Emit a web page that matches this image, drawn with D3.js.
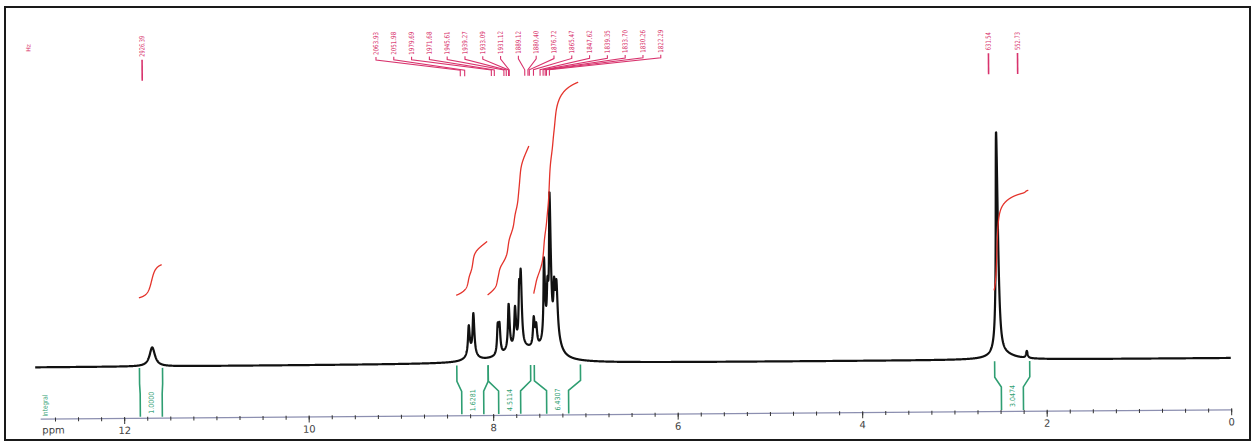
<!DOCTYPE html>
<html><head><meta charset="utf-8">
<script src="https://cdn.jsdelivr.net/npm/d3@7"></script>
<style>body{margin:0;background:#fff}svg{display:block}</style>
</head><body><svg id="c" width="1256" height="446"></svg>
<script>
// ---------- data ----------
const peakPpm    = [11.69, 8.257, 8.206, 7.943, 7.924, 7.823, 7.754, 7.707, 7.689, 7.552, 7.526, 7.436, 7.400, 7.371, 7.328, 7.303, 2.525, 2.210];
const peakHeight = [19,    28,    40,    27,    27,    46,    38,    50,    65,    28,    20,    78,    40,    140,   45,    50,    224,   7];
const peakWidth  = [0.07,  0.022, 0.022, 0.02,  0.02,  0.022, 0.022, 0.02,  0.02,  0.022, 0.022, 0.02,  0.02,  0.022, 0.022, 0.025, 0.028, 0.02];
const envelopePpm    = [8.23, 7.70, 7.40, 7.30, 2.47];
const envelopeHeight = [8,    14,   14,   12,   5];
const envelopeWidth  = [0.12, 0.45, 0.18, 0.10, 0.30];

const integralFrom   = [11.83, 8.39, 8.05, 7.55, 2.56];
const integralTo     = [11.58, 8.05, 7.59, 7.05, 2.18];
const integralValues = ["1.0000", "1.6281", "4.5114", "6.4307", "3.0474"];

const aromaticLabelsHz = ["2063.93","2051.98","1979.69","1971.68","1945.61","1939.27","1933.09","1931.12","1889.12","1880.40","1876.72","1865.47","1847.62","1839.35","1833.70","1830.26","1822.29"];
const singleLabelsHz   = ["2926.39","631.54","552.73"];
const spectrometerMHz  = 250.13;

const majorTicks = [12, 10, 8, 6, 4, 2, 0];
const minorTicks = d3.range(0, 12.9, 0.25);

// ---------- layout ----------
const baseY = 362.7, axisY = 414;
const x = d3.scaleLinear().domain([12.91, 0]).range([40, 1231]);
const y = d3.scaleLinear().domain([0, 230]).range([baseY, baseY - 230]);
const yInt = d3.scaleLinear().domain([0, 7]).range([294, 294 - 7 * 33]);

const red = "#e4332b", pink = "#d8336d", green = "#2f9e72";

const svg = d3.select("#c");
svg.append("rect").attr("x", 5).attr("y", 7).attr("width", 1245).attr("height", 433)
  .attr("fill", "none").attr("stroke", "#1a1a1a").attr("stroke-width", 2);

const g = svg.append("g").attr("transform", "rotate(-0.45,630,390)");

const lor = (p, c, h, w) => h / (1 + Math.pow((p - c) / (w / 2), 2));
function spec(p) {
  let s = 0;
  for (let i = 0; i < peakPpm.length; i++) s += lor(p, peakPpm[i], peakHeight[i], peakWidth[i]);
  for (let i = 0; i < envelopePpm.length; i++) s += lor(p, envelopePpm[i], envelopeHeight[i], envelopeWidth[i]);
  return s;
}
const grid = d3.range(12.96, -0.0001, -0.002);
const specPts = grid.map(p => [p, spec(p)]);

// spectrum
g.append("path").datum(specPts)
  .attr("fill", "none").attr("stroke", "#111").attr("stroke-width", 2.2).attr("stroke-linejoin", "round")
  .attr("d", d3.line().x(d => x(d[0])).y(d => y(d[1])));

// axis
const axMinor = d3.axisBottom(x).tickValues(minorTicks).tickSize(3).tickSizeOuter(0).tickFormat("");
const axMajor = d3.axisBottom(x).tickValues(majorTicks).tickSize(6).tickSizeOuter(0).tickFormat(d3.format("d")).tickPadding(3);
const ga1 = g.append("g").attr("transform", `translate(0,${axisY})`).call(axMinor);
ga1.select(".domain").attr("stroke", "#8c8fb0").attr("stroke-width", 1.2);
ga1.selectAll(".tick line").attr("stroke", "#333").attr("y1", -1);
const ga2 = g.append("g").attr("transform", `translate(0,${axisY})`).call(axMajor);
ga2.select(".domain").remove();
ga2.selectAll(".tick line").attr("stroke", "#333");
ga2.selectAll(".tick text").attr("font-family", "DejaVu Sans").attr("font-size", 10).attr("fill", "#444");
g.append("text").attr("x", 42).attr("y", axisY + 15).text("ppm")
  .attr("font-family", "DejaVu Sans").attr("font-size", 10).attr("fill", "#444");

// integrals
integralValues.forEach((val, r) => {
  const a = integralFrom[r], b = integralTo[r];
  const pts = d3.range(a, b - 0.0001, -0.002);
  let cum = 0; const cums = pts.map(p => (cum += spec(p)));
  const tot = cum;
  const data = pts.map((p, i) => [p, cums[i] / tot * (+val)]);
  g.append("path").datum(data).attr("fill", "none").attr("stroke", red).attr("stroke-width", 1.3)
    .attr("d", d3.line().x(d => x(d[0])).y(d => yInt(d[1])));

  const xa = x(a), xb = x(b), xc = (xa + xb) / 2;
  const cl = xc - 11, cr = xc + 11;
  const y0 = baseY + 1.5, y1 = 380, y2 = 390, y3 = axisY - 1;
  [[xa, cl], [xb, cr]].forEach(([xe, xcol]) => {
    g.append("path").attr("d", `M${xe},${y0}L${xe},${y1}L${xcol},${y2}L${xcol},${y3}`)
      .attr("fill", "none").attr("stroke", green).attr("stroke-width", 1.6);
  });
  g.append("text").attr("transform", `translate(${xc},${y3 - 3}) rotate(-90)`)
    .attr("dy", "0.35em").attr("textLength", 22).attr("lengthAdjust", "spacingAndGlyphs")
    .attr("font-family", "DejaVu Sans").attr("font-size", 7).attr("fill", green).text(val);
});
g.append("text").attr("transform", `translate(45,${axisY - 2}) rotate(-90)`)
  .attr("dy", "0.35em").attr("textLength", 22).attr("lengthAdjust", "spacingAndGlyphs")
  .attr("font-family", "DejaVu Sans").attr("font-size", 7).attr("fill", green).text("Integral");

// peak labels (Hz)
const lab = g.append("g");
const labShift = -7;
const hzX = hz => x(+hz / spectrometerMHz) + labShift;
const n = aromaticLabelsHz.length, spacing = 17.8, center = 521;
aromaticLabelsHz.forEach((hz, i) => {
  const lx = center + (i - (n - 1) / 2) * spacing;
  const tx = hzX(hz);
  lab.append("text").attr("transform", `translate(${lx},53) rotate(-90)`)
    .attr("dy", "0.35em").attr("textLength", 23).attr("lengthAdjust", "spacingAndGlyphs")
    .attr("font-family", "DejaVu Sans").attr("font-size", 7).attr("fill", pink).text(hz);
  lab.append("path").attr("d", `M${lx},55L${lx},58L${tx},69L${tx},75`)
    .attr("fill", "none").attr("stroke", pink).attr("stroke-width", 1.1);
});
singleLabelsHz.forEach(hz => {
  const tx = hzX(hz);
  lab.append("text").attr("transform", `translate(${tx},53) rotate(-90)`)
    .attr("dy", "0.35em").attr("textLength", hz.length > 6 ? 21 : 18).attr("lengthAdjust", "spacingAndGlyphs")
    .attr("font-family", "DejaVu Sans").attr("font-size", 7).attr("fill", pink).text(hz);
  lab.append("line").attr("x1", tx).attr("x2", tx).attr("y1", 56).attr("y2", 77)
    .attr("stroke", pink).attr("stroke-width", 1.6);
});
lab.append("text").attr("transform", "translate(31,47) rotate(-90)").attr("dy", "0.35em")
  .attr("font-family", "DejaVu Sans").attr("font-size", 6).attr("fill", pink).text("Hz");
</script></body></html>
